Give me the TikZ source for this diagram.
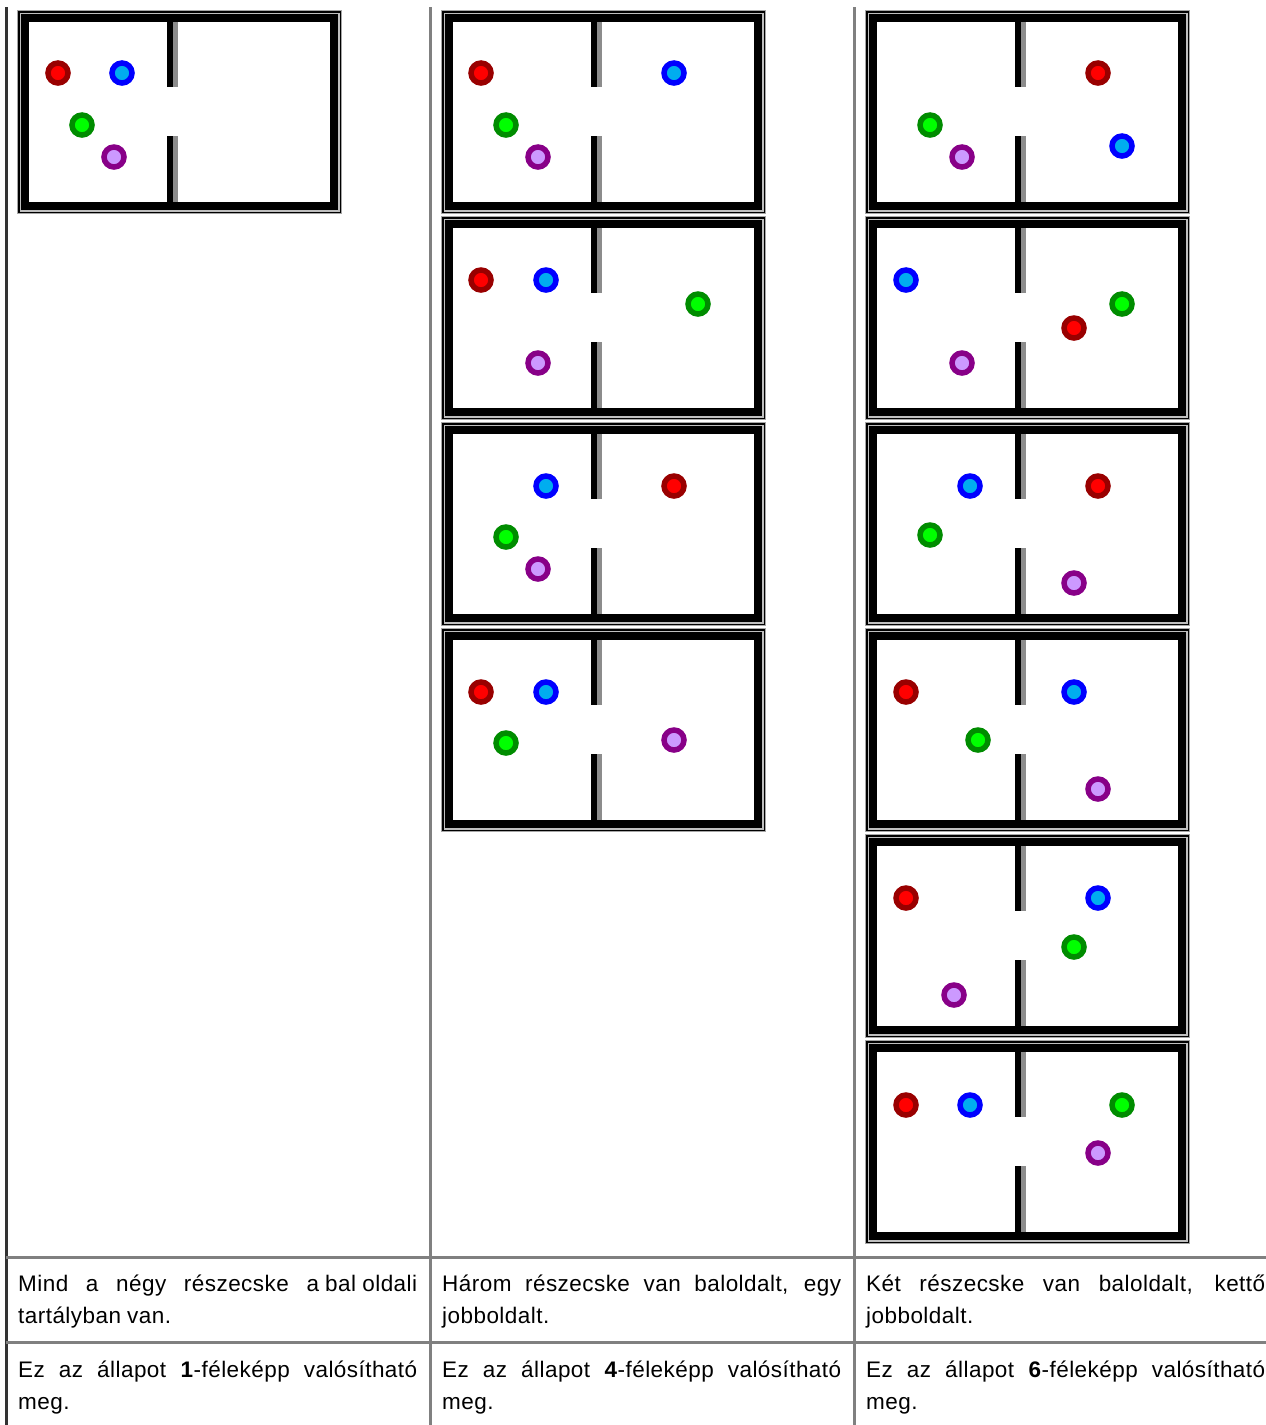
\documentclass[tikz,border=0pt]{standalone}
\usepackage{fontspec}
\setmainfont{Liberation Sans}[LetterSpace=2]

\definecolor{lilakor}{RGB}{136,0,136}
\definecolor{lilabel}{RGB}{204,153,255}

% Tartály: bal felső sarok (x,y), aztán a piros, kék, zöld és lila részecske helye
\newcommand{\tartaly}[6]{%
  \begin{scope}[shift={(#1,#2)}]
    % Keret
    \fill[black!35] (0,0) rectangle (325,204);
    \fill[black] (1,1) rectangle (324,203);
    \fill[black!25] (2.5,2.5) rectangle (322.5,201.5);
    \fill[black] (4,4) rectangle (321,200);
    \fill[white] (12,12) rectangle (313,192);
    % Válaszfal a nyílással
    \fill[black] (150,4) rectangle (156,77);
    \fill[black!45] (156,12) rectangle (161,77);
    \fill[black] (150,126) rectangle (156,200);
    \fill[black!45] (156,126) rectangle (161,192);
    % Részecskék
    \draw[piros] (#3) circle (10);
    \draw[kek] (#4) circle (10);
    \draw[zold] (#5) circle (10);
    \draw[lila] (#6) circle (10);
  \end{scope}}

% Sorkizárt cellaszöveg
\newcommand{\cellabetu}{\fontsize{22.5}{32}\selectfont
  \spaceskip=6.2pt plus 30pt minus 1pt\relax
  \hyphenpenalty=10000\relax}

\begin{document}
\begin{tikzpicture}[x=1pt, y=-1pt,
    piros/.style={draw=red!60!black, fill=red, line width=5.5pt},
    kek/.style={draw=blue, fill=cyan, line width=5.5pt},
    zold/.style={draw=green!55!black, fill=green, line width=5.5pt},
    lila/.style={draw=lilakor, fill=lilabel, line width=5.5pt},
    racs/.style={line width=3pt, black!50},
    cella/.style={anchor=north west, inner sep=0pt, text width=399pt, align=justify,
      font=\cellabetu}]
    \useasboundingbox (0,0) rectangle (1266,1425);

    % Táblázat vonalai
    \draw[racs, black!80] (6,7) -- (6,1425);
    \draw[racs] (430.5,7) -- (430.5,1425);
    \draw[racs] (854.5,7) -- (854.5,1425);
    \draw[racs] (6,1257) -- (1266,1257);
    \draw[racs] (6,1342) -- (1266,1342);

    % Első oszlop: 4 bal, 0 jobb
    \tartaly{17}{10}{41,63}{105,63}{65,115}{97,147}

    % Második oszlop: 3 bal, 1 jobb
    \tartaly{441}{10}{40,63}{233,63}{65,115}{97,147}
    \tartaly{441}{216}{40,64}{105,64}{257,88}{97,147}
    \tartaly{441}{422}{233,64}{105,64}{65,115}{97,147}
    \tartaly{441}{628}{40,64}{105,64}{65,115}{233,112}

    % Harmadik oszlop: 2 bal, 2 jobb
    \tartaly{865}{10}{233,63}{257,136}{65,115}{97,147}
    \tartaly{865}{216}{209,112}{41,64}{257,88}{97,147}
    \tartaly{865}{422}{233,64}{105,64}{65,113}{209,161}
    \tartaly{865}{628}{41,64}{209,64}{113,112}{233,161}
    \tartaly{865}{834}{41,64}{233,64}{209,113}{89,161}
    \tartaly{865}{1040}{41,65}{105,65}{257,65}{233,113}

    % Leírások
    \node[cella] (leiras1) at (18,1268.6) {\strut Mind a négy részecske a\hspace{6.2pt}bal\hspace{6.2pt}oldali\linebreak tartályban van.};
    \node[cella] (leiras2) at (442,1268.6) {\strut Három részecske van baloldalt, egy\linebreak jobboldalt.};
    \node[cella] (leiras3) at (866,1268.6) {\strut Két részecske van baloldalt, kettő\linebreak jobboldalt.};

    % Hányféleképp
    \node[cella] (mod1) at (18,1354.6) {\strut Ez az állapot \textbf{1}-féleképp valósítható\linebreak meg.};
    \node[cella] (mod2) at (442,1354.6) {\strut Ez az állapot \textbf{4}-féleképp valósítható\linebreak meg.};
    \node[cella] (mod3) at (866,1354.6) {\strut Ez az állapot \textbf{6}-féleképp valósítható\linebreak meg.};
\end{tikzpicture}
\end{document}
